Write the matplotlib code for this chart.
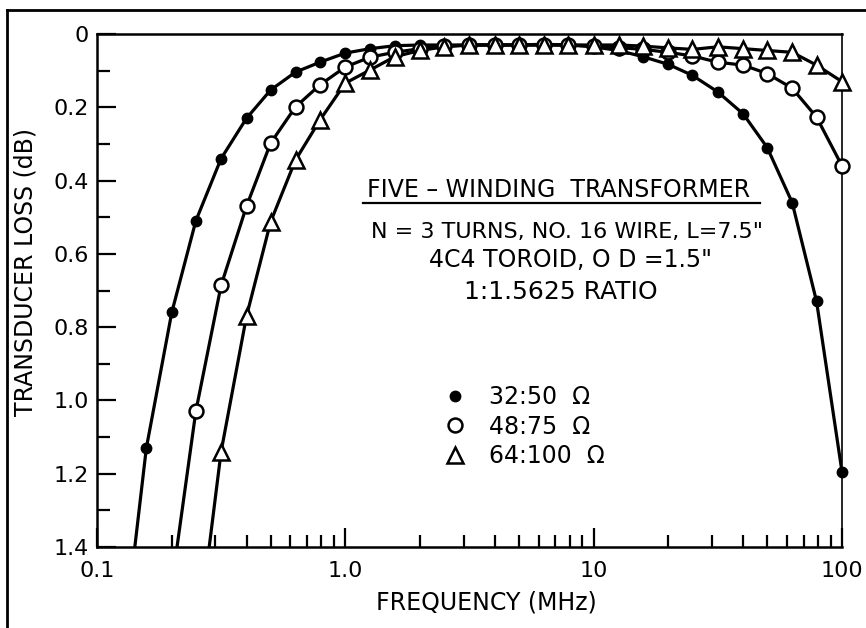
import matplotlib
matplotlib.use("Agg")
import matplotlib.pyplot as plt
from matplotlib.lines import Line2D
from matplotlib.ticker import FixedLocator, NullFormatter

plt.rcParams['font.family'] = ['DejaVu Sans']

# frequencies (MHz) of the measured points
freq = [0.158, 0.2, 0.25, 0.316, 0.4, 0.5, 0.63, 0.79, 1.0, 1.26, 1.58, 2.0,
        2.5, 3.16, 4.0, 5.0, 6.3, 7.9, 10, 12.6, 15.8, 20, 25, 31.6, 40, 50,
        63, 79, 100]

# transducer loss (dB)
loss_32_50 = [1.13, 0.76, 0.51, 0.34, 0.23, 0.153, 0.104, 0.077, 0.052, 0.04,
              0.032, 0.03, 0.03, 0.03, 0.03, 0.03, 0.028, 0.03, 0.035, 0.045,
              0.062, 0.083, 0.113, 0.158, 0.218, 0.31, 0.46, 0.73, 1.195]
loss_48_75 = [1.03, 0.686, 0.47, 0.298, 0.199, 0.139, 0.09, 0.063, 0.05,
              0.04, 0.033, 0.03, 0.03, 0.03, 0.03, 0.03, 0.033,
              0.037, 0.042, 0.05, 0.06, 0.077, 0.085, 0.108, 0.148, 0.227, 0.36]
loss_64_100 = [1.14, 0.77, 0.513, 0.344, 0.235, 0.134, 0.098, 0.062, 0.045,
               0.035, 0.03, 0.03, 0.03, 0.03, 0.03, 0.03,
               0.03, 0.033, 0.038, 0.042, 0.035, 0.04, 0.045, 0.05, 0.085, 0.13]
freq_48_75 = freq[2:]
freq_64_100 = freq[3:]

# where each curve leaves the bottom of the chart (1.4 dB)
curve_start_freq = [0.142, 0.21, 0.283]
curve_start_loss = 1.4

labels = ["32:50  \u03a9", "48:75  \u03a9", "64:100  \u03a9"]
xticks = [0.1, 1, 10, 100]
xticklabels = ["0.1", "1.0", "10", "100"]
yticks = [0, 0.2, 0.4, 0.6, 0.8, 1.0, 1.2, 1.4]
yticklabels = ["0", "0.2", "0.4", "0.6", "0.8", "1.0", "1.2", "1.4"]

fig = plt.figure(figsize=(8.66, 6.28), dpi=100)
ax = fig.add_axes([97 / 866, 81 / 628, 745 / 866, 513 / 628])

series = [
    (freq, loss_32_50, dict(marker='o', ms=7.5, mfc='black', mec='black')),
    (freq_48_75, loss_48_75, dict(marker='o', ms=10, mfc='white', mec='black', mew=1.8)),
    (freq_64_100, loss_64_100, dict(marker='^', ms=11, mfc='white', mec='black', mew=1.8)),
]
handles = []
for i, (f, l, style) in enumerate(series):
    ax.plot([curve_start_freq[i]] + list(f), [curve_start_loss] + list(l),
            color='black', lw=2.3, zorder=2)
    h, = ax.plot(f, l, ls='none', zorder=3, clip_on=False, **style)
    handles.append(h)

ax.set_xscale('log')
ax.set_xlim(0.1, 100)
ax.set_ylim(1.4, 0)

ax.xaxis.set_major_locator(FixedLocator(xticks))
ax.set_xticklabels(xticklabels)
ax.xaxis.set_minor_locator(FixedLocator(
    [m * d for d in (0.1, 1, 10) for m in range(2, 10)]))
ax.xaxis.set_minor_formatter(NullFormatter())
ax.set_yticks(yticks)
ax.set_yticklabels(yticklabels)
ax.yaxis.set_minor_locator(FixedLocator([0.1, 0.3, 0.5, 0.7, 0.9, 1.1, 1.3]))

ax.tick_params(which='both', direction='in', width=1.6, labelsize=16)
ax.tick_params(which='major', length=14, pad=6)
ax.tick_params(which='minor', length=9)
ax.tick_params(axis='x', which='major', pad=10)
for s in ax.spines.values():
    s.set_linewidth(1.8)
ax.spines['right'].set_linewidth(1.2)

ax.set_xlabel("FREQUENCY (MHz)", fontsize=17)
ax.xaxis.set_label_coords(0.523, -0.085)
ax.set_ylabel("TRANSDUCER LOSS (dB)", fontsize=17)
ax.yaxis.set_label_coords(-0.08, 0.536)

# annotation block
ax.text(0.619, 0.696, "FIVE \u2013 WINDING  TRANSFORMER", transform=ax.transAxes,
        ha='center', va='center', fontsize=17)
ax.add_line(Line2D([0.357, 0.890], [0.671, 0.671], transform=ax.transAxes,
                   color='black', lw=1.6))
ax.text(0.631, 0.614, "N = 3 TURNS, NO. 16 WIRE, L=7.5\"", transform=ax.transAxes,
        ha='center', va='center', fontsize=16)
ax.text(0.636, 0.559, "4C4 TOROID, O D =1.5\"", transform=ax.transAxes,
        ha='center', va='center', fontsize=17)
ax.text(0.623, 0.497, "1:1.5625 RATIO", transform=ax.transAxes,
        ha='center', va='center', fontsize=18)

ax.legend(handles, labels, loc='upper left', bbox_to_anchor=(0.4645, 0.316),
          frameon=False, borderpad=0, borderaxespad=0, handlelength=1.0,
          handletextpad=0.95, labelspacing=0.24, fontsize=17)

# outer border of the scanned page
fig.add_artist(Line2D([7 / 866, 1], [1 - 10 / 628] * 2,
                      transform=fig.transFigure, color='black', lw=2))
fig.add_artist(Line2D([7 / 866] * 2, [0, 1 - 10 / 628],
                      transform=fig.transFigure, color='black', lw=2))

fig.savefig("out.png", dpi=100)
